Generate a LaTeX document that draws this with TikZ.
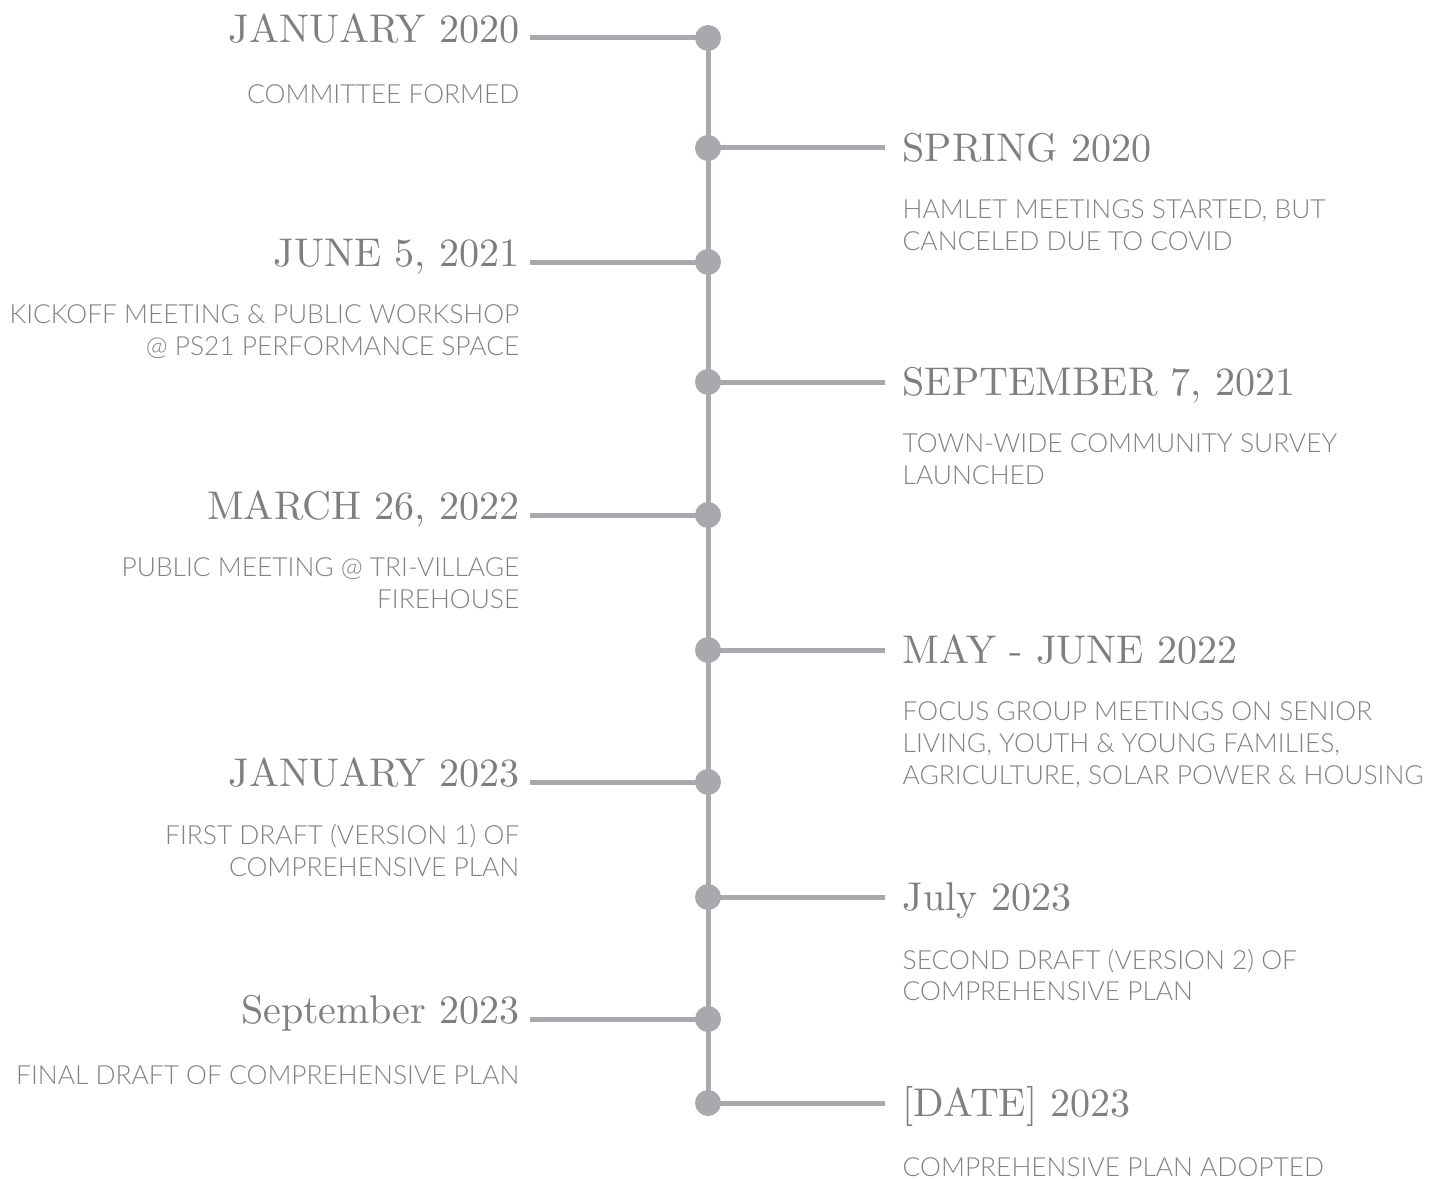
\documentclass[tikz,border=0pt]{standalone}
\usepackage{fontspec}
\usepackage{xcolor}
\usepackage{tikz}
\usetikzlibrary{positioning}
\IfFontExistsTF{Lato Light}{\newfontfamily\lbfont{Lato Light}}{\newfontfamily\lbfont{Lato}}
\IfFontExistsTF{lmroman10-regular.otf}{\newfontfamily\dtfont{lmroman10-regular.otf}}{\newfontfamily\dtfont{Latin Modern Roman}}
\definecolor{stemgrey}{HTML}{A7A9AC}
\definecolor{datgrey}{HTML}{7E7F82}
\definecolor{txtgrey}{HTML}{808285}
\tikzset{
  dot/.style={circle, fill=stemgrey, minimum size=0.52cm, inner sep=0pt},
  stem/.style={draw=stemgrey, line width=0.1cm},
  ttl/.style={inner ysep=0pt, text height=15.6pt, text depth=0pt, color=datgrey,
              font=\dtfont\fontsize{22.8}{27}\selectfont},
  ttll/.style={ttl, inner xsep=0.2cm, yshift=0.18cm},
  ttlr/.style={ttl, inner xsep=0.34cm},
  msg/.style={inner sep=0pt, color=txtgrey,
              font=\lbfont\fontsize{15}{18.2}\selectfont,
              execute at begin node={\rule{0pt}{13pt}}},
  msgl/.style={msg, align=right},
  msgr/.style={msg, align=left},
}

\begin{document}
\begin{tikzpicture}[x=0.02cm, y=-0.02cm]
  \useasboundingbox (0,0) rectangle (1446,1179);

  \node[dot] (d1) at (708,38) {};
  \node[dot] (d2) at (708,148) {};
  \node[dot] (d3) at (708,262) {};
  \node[dot] (d4) at (708,382) {};
  \node[dot] (d5) at (708,515) {};
  \node[dot] (d6) at (708,650) {};
  \node[dot] (d7) at (708,782) {};
  \node[dot] (d8) at (708,897) {};
  \node[dot] (d9) at (708,1019) {};
  \node[dot] (d10) at (708,1103) {};

  \node[ttll, left=3.3cm of d1] (t1) {JANUARY 2020};
  \node[msgl, below left=0.74cm and 0.2cm of t1.south east] (m1) {COMMITTEE FORMED};

  \node[ttlr, right=3.28cm of d2] (t2) {SPRING 2020};
  \node[msgr, below right=0.75cm and 0.34cm of t2.south west] (m2) {HAMLET MEETINGS STARTED, BUT\\CANCELED DUE TO COVID};

  \node[ttll, left=3.3cm of d3] (t3) {JUNE 5, 2021};
  \node[msgl, below left=0.74cm and 0.2cm of t3.south east] (m3) {KICKOFF MEETING \& PUBLIC WORKSHOP\\@ PS21 PERFORMANCE SPACE};

  \node[ttlr, right=3.28cm of d4] (t4) {SEPTEMBER 7, 2021};
  \node[msgr, below right=0.75cm and 0.34cm of t4.south west] (m4) {TOWN-WIDE COMMUNITY SURVEY\\LAUNCHED};

  \node[ttll, left=3.3cm of d5] (t5) {MARCH 26, 2022};
  \node[msgl, below left=0.74cm and 0.2cm of t5.south east] (m5) {PUBLIC MEETING @ TRI-VILLAGE\\FIREHOUSE};

  \node[ttlr, right=3.28cm of d6] (t6) {MAY - JUNE 2022};
  \node[msgr, below right=0.75cm and 0.34cm of t6.south west] (m6) {FOCUS GROUP MEETINGS ON SENIOR\\LIVING, YOUTH \& YOUNG FAMILIES,\\AGRICULTURE, SOLAR POWER \& HOUSING};

  \node[ttll, left=3.3cm of d7] (t7) {JANUARY 2023};
  \node[msgl, below left=0.74cm and 0.2cm of t7.south east] (m7) {FIRST DRAFT (VERSION 1) OF\\COMPREHENSIVE PLAN};

  \node[ttlr, right=3.28cm of d8] (t8) {July 2023};
  \node[msgr, below right=0.75cm and 0.34cm of t8.south west] (m8) {SECOND DRAFT (VERSION 2) OF\\COMPREHENSIVE PLAN};

  \node[ttll, left=3.3cm of d9] (t9) {September 2023};
  \node[msgl, below left=0.74cm and 0.2cm of t9.south east] (m9) {FINAL DRAFT OF COMPREHENSIVE PLAN};

  \node[ttlr, right=3.28cm of d10] (t10) {[DATE] 2023};
  \node[msgr, below right=0.72cm and 0.34cm of t10.south west] (m10) {COMPREHENSIVE PLAN ADOPTED};

  % stem and branches
  \draw[stem] (d1.center) -- (d10.center);
  \draw[stem] (t1.east |- d1) -- (d1.center);
  \draw[stem] (d2.center) -- (t2.west |- d2);
  \draw[stem] (t3.east |- d3) -- (d3.center);
  \draw[stem] (d4.center) -- (t4.west |- d4);
  \draw[stem] (t5.east |- d5) -- (d5.center);
  \draw[stem] (d6.center) -- (t6.west |- d6);
  \draw[stem] (t7.east |- d7) -- (d7.center);
  \draw[stem] (d8.center) -- (t8.west |- d8);
  \draw[stem] (t9.east |- d9) -- (d9.center);
  \draw[stem] (d10.center) -- (t10.west |- d10);
\end{tikzpicture}
\end{document}
